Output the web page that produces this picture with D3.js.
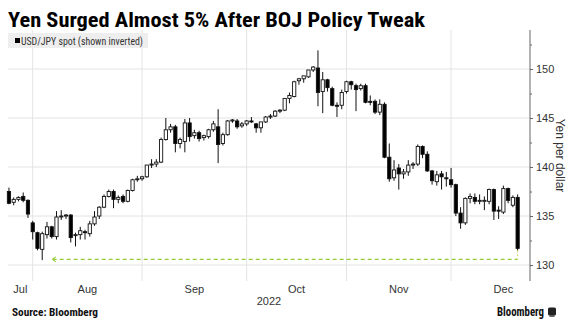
<!DOCTYPE html>
<html><head><meta charset="utf-8">
<script src="https://cdn.jsdelivr.net/npm/d3@7"></script>
<style>body{margin:0;background:#fff;} svg{display:block;}</style>
</head><body><svg id="chart" width="583" height="323"></svg>
<script>
// ---------- data ----------
const titleText = "Yen Surged Almost 5% After BOJ Policy Tweak";
const legendLabel = "USD/JPY spot (shown inverted)";
const yAxisLabel = "Yen per dollar";
const sourceText = "Source: Bloomberg";
const brandText = "Bloomberg";
const yearLabel = "2022";
const firstDay = "2022-07-22";
const lastDay = "2022-12-20";
const yTicks = [130, 135, 140, 145, 150];
const yMinorTicks = [130, 132.5, 135, 137.5, 140, 142.5, 145, 147.5, 150, 152.5];

const open  = [137.5,136.4,136.7,137.0,136.6,134.3,133.3,131.6,133.1,133.9,132.9,135.0,135.0,135.1,133.0,133.1,133.4,133.2,134.2,135.0,135.9,137.0,137.5,136.7,137.0,136.5,137.6,138.7,138.8,139.0,140.2,140.3,140.5,142.8,143.8,144.1,142.4,142.6,144.5,143.2,143.5,143.0,143.1,143.8,144.1,142.4,143.3,144.7,144.7,144.2,144.4,144.7,144.4,144.0,144.6,145.1,145.2,145.7,145.8,147.0,147.2,148.8,149.0,149.2,149.9,150.1,147.7,148.9,148.0,146.3,146.3,147.7,148.7,148.3,148.0,148.3,146.7,146.7,145.6,146.4,141.0,138.9,139.9,139.3,139.5,140.2,140.3,142.1,141.3,139.6,138.5,139.3,138.9,138.7,138.2,135.3,134.3,136.8,136.9,136.6,136.6,136.5,137.7,135.6,135.4,137.8,136.1,136.9];
const high  = [137.9,136.9,137.0,137.4,136.7,134.5,133.4,133.4,134.4,134.0,135.5,135.6,135.2,135.2,133.3,133.9,133.6,134.5,135.5,136.0,137.2,137.7,137.7,137.1,137.2,137.7,138.8,139.1,139.1,140.2,140.8,140.8,143.0,145.0,144.4,144.3,143.0,144.9,145.0,143.8,143.7,143.3,143.9,144.7,145.9,143.5,144.8,144.9,144.9,144.6,144.8,145.1,144.5,144.6,145.2,145.4,145.8,145.9,147.0,147.6,148.8,149.1,149.3,149.9,150.3,151.9,149.7,149.0,148.2,146.6,147.9,148.8,148.8,148.5,148.5,148.5,147.3,146.9,146.9,146.6,142.4,140.7,140.3,139.8,140.7,140.5,142.3,142.2,141.6,139.7,139.6,139.6,139.5,139.9,138.3,135.9,136.9,137.3,137.3,137.2,137.0,137.8,137.8,136.0,138.1,137.9,137.1,137.2];
const low   = [136.2,136.1,136.5,136.4,134.8,132.6,131.5,130.5,132.7,132.7,132.6,134.6,134.7,132.3,131.9,132.6,132.6,132.9,134.0,134.7,135.8,136.9,135.8,136.3,136.3,136.4,137.5,138.5,138.6,138.9,139.9,140.0,140.4,142.7,143.5,141.5,141.9,141.5,142.6,142.9,142.6,142.7,142.9,143.6,140.4,142.2,143.2,144.5,143.9,144.0,144.2,144.5,143.5,143.5,144.5,144.9,145.1,145.5,145.7,146.5,147.1,148.4,148.6,149.1,149.7,146.2,145.5,147.7,146.2,145.1,145.9,147.5,147.9,145.7,147.8,146.5,146.3,145.4,145.3,140.9,138.5,138.6,137.7,138.8,139.1,139.8,140.1,140.9,139.5,138.2,138.1,137.7,138.0,137.9,135.0,133.7,134.1,136.3,136.2,136.2,135.6,136.2,134.6,134.7,135.2,136.3,135.9,131.5];
const close = [136.3,136.7,136.9,136.6,135.2,133.4,131.7,133.2,133.9,132.9,134.9,135.0,135.1,132.8,133.1,133.5,133.3,134.2,134.9,135.9,137.0,137.5,136.7,136.9,136.5,137.6,138.7,138.8,139.0,140.2,140.3,140.5,142.8,143.8,144.1,142.4,142.8,144.5,143.1,143.5,142.9,143.2,143.8,144.4,142.3,143.3,144.7,144.8,144.1,144.4,144.7,144.6,144.0,144.6,145.1,145.2,145.7,145.8,147.0,147.3,148.7,149.0,149.3,149.9,150.2,147.6,148.9,148.1,146.3,146.2,147.6,148.7,148.4,147.9,148.3,146.6,146.6,145.6,146.4,141.0,138.8,139.7,139.3,139.5,140.2,140.3,142.1,141.3,139.6,138.6,139.2,139.0,138.8,138.2,135.3,134.3,136.8,137.0,136.5,136.6,136.6,137.7,135.5,135.5,137.8,136.6,136.9,131.7];

// annotation: low-since-August marker line
const markerLevel = 130.58;
const markerFromIndex = 9.2;

// ---------- setup ----------
const svg = d3.select("#chart");
const fontNarrow = "'Liberation Sans Narrow','Roboto Condensed','DejaVu Sans Condensed','Liberation Sans',sans-serif";
const fontReg = "'Liberation Sans','Arial',sans-serif";

const isWeekday = d => d.getDay() !== 0 && d.getDay() !== 6;
const parse = d3.timeParse("%Y-%m-%d");
const dates = d3.timeDays(parse(firstDay), d3.timeDay.offset(parse(lastDay), 1)).filter(isWeekday);
const candles = dates.map((d, i) => ({date: d, i, o: open[i], h: high[i], l: low[i], c: close[i]}));

const plot = {left: 8, right: 530, top: 30, bottom: 281};
const x = d3.scaleLinear().domain([-0.2, 109.6]).range([plot.left, plot.right]);
const y = d3.scaleLinear().domain([128.37, 153.98]).range([plot.bottom, plot.top]);
const step = x(1) - x(0);
const bodyW = step * 0.68;

// month boundaries (last trading day index of each month) and label centres
const monthKey = d3.timeFormat("%Y-%m");
const groups = d3.groups(candles, c => monthKey(c.date));
const monthEnds = groups.map(g => g[1][g[1].length - 1].i);
const monthLabels = groups.map((g, k) => {
  const first = g[1][0];
  const mStart = d3.timeMonth.floor(first.date);
  const fullCount = d3.timeDays(mStart, d3.timeMonth.offset(mStart, 1)).filter(isWeekday).length;
  const prevEnd = k === 0 ? x.domain()[0] : monthEnds[k - 1];
  const end = k === 0 ? monthEnds[0] : (k === groups.length - 1 ? prevEnd + fullCount : monthEnds[k]);
  return {name: d3.timeFormat("%b")(first.date), pos: (prevEnd + end) / 2};
});
const gridMonthEnds = monthEnds.slice(0, -1);

// ---------- gridlines ----------
svg.append("g").selectAll("line").data(yTicks).join("line")
  .attr("x1", plot.left).attr("x2", plot.right)
  .attr("y1", d => y(d)).attr("y2", d => y(d))
  .attr("stroke", "#e3e3e3").attr("stroke-width", 1);
svg.append("g").selectAll("line").data(gridMonthEnds).join("line")
  .attr("x1", d => x(d)).attr("x2", d => x(d))
  .attr("y1", plot.top).attr("y2", plot.bottom)
  .attr("stroke", "#e3e3e3").attr("stroke-width", 1);

// ---------- title & legend ----------
svg.append("text").attr("x", 8).attr("y", 27)
  .attr("font-family", fontNarrow).attr("font-weight", "bold").attr("font-size", 20)
  .attr("textLength", 417).attr("lengthAdjust", "spacingAndGlyphs")
  .attr("fill", "#000").text(titleText);

svg.append("rect").attr("x", 8).attr("y", 33).attr("width", 140).attr("height", 15).attr("fill", "#eeeeee");
svg.append("rect").attr("x", 15).attr("y", 38).attr("width", 5).attr("height", 5).attr("fill", "#000");
svg.append("text").attr("x", 21).attr("y", 44.5)
  .attr("font-family", fontNarrow).attr("font-size", 10)
  .attr("textLength", 122).attr("lengthAdjust", "spacingAndGlyphs")
  .attr("fill", "#333").text(legendLabel);

// ---------- annotation ----------
const markerColor = "#96cc3a";
const lastC = candles[candles.length - 1];
svg.append("line")
  .attr("x1", x(markerFromIndex)).attr("x2", x(lastC.i))
  .attr("y1", y(markerLevel)).attr("y2", y(markerLevel))
  .attr("stroke", markerColor).attr("stroke-width", 1.2).attr("stroke-dasharray", "4,3");
svg.append("line")
  .attr("x1", x(lastC.i)).attr("x2", x(lastC.i))
  .attr("y1", y(lastC.l)).attr("y2", y(markerLevel))
  .attr("stroke", "#d4d45c").attr("stroke-width", 1).attr("stroke-dasharray", "2,2");
svg.append("path")
  .attr("d", `M${x(markerFromIndex) + 3},${y(markerLevel) - 2.5} L${x(markerFromIndex)},${y(markerLevel)} L${x(markerFromIndex) + 3},${y(markerLevel) + 2.5}`)
  .attr("fill", "none").attr("stroke", markerColor).attr("stroke-width", 1.2);

// ---------- candles ----------
const g = svg.append("g");
g.selectAll("line.wick").data(candles).join("line").attr("class", "wick")
  .attr("x1", d => x(d.i)).attr("x2", d => x(d.i))
  .attr("y1", d => y(d.h)).attr("y2", d => y(d.l))
  .attr("stroke", "#111").attr("stroke-width", 1);
g.selectAll("rect.body").data(candles).join("rect").attr("class", "body")
  .attr("x", d => x(d.i) - bodyW / 2).attr("width", bodyW)
  .attr("y", d => y(Math.max(d.o, d.c)))
  .attr("height", d => Math.max(1, Math.abs(y(d.o) - y(d.c))))
  .attr("fill", d => d.c < d.o ? "#000" : "#fff")
  .attr("stroke", "#111").attr("stroke-width", 0.9);

// ---------- y axis ----------
const yAxis = svg.append("g").attr("transform", `translate(${plot.right},0)`);
yAxis.append("line").attr("x1", 0).attr("x2", 0).attr("y1", plot.top).attr("y2", plot.bottom)
  .attr("stroke", "#666").attr("stroke-width", 1);
yAxis.append("g").call(d3.axisRight(y).tickValues(yMinorTicks).tickSize(2).tickFormat(""))
  .call(s => s.select(".domain").remove())
  .call(s => s.selectAll("line").attr("stroke", "#666"));
yAxis.append("g").call(d3.axisRight(y).tickValues(yTicks).tickSize(3).tickPadding(3))
  .call(s => s.select(".domain").remove())
  .call(s => s.selectAll("line").attr("stroke", "#666"))
  .call(s => s.selectAll("text").attr("font-family", fontReg).attr("font-size", 11).attr("fill", "#333"));

svg.append("text")
  .attr("transform", `translate(556,${(plot.top + plot.bottom) / 2}) rotate(90)`)
  .attr("text-anchor", "middle")
  .attr("font-family", fontReg).attr("font-size", 12).attr("fill", "#333")
  .text(yAxisLabel);

// ---------- x labels ----------
svg.append("g").selectAll("text").data(monthLabels).join("text")
  .attr("x", d => x(d.pos)).attr("y", 293)
  .attr("text-anchor", "middle")
  .attr("font-family", fontReg).attr("font-size", 11).attr("fill", "#333")
  .text(d => d.name);
svg.append("text").attr("x", (plot.left + plot.right) / 2).attr("y", 304.5)
  .attr("text-anchor", "middle")
  .attr("font-family", fontReg).attr("font-size", 11).attr("fill", "#333")
  .text(yearLabel);

// ---------- footer ----------
svg.append("text").attr("x", 12).attr("y", 316)
  .attr("font-family", fontNarrow).attr("font-weight", "bold").attr("font-size", 10)
  .attr("textLength", 86).attr("lengthAdjust", "spacingAndGlyphs")
  .attr("fill", "#111").text(sourceText);
svg.append("text").attr("x", 497).attr("y", 315.5)
  .attr("font-family", fontNarrow).attr("font-weight", "bold").attr("font-size", 12)
  .attr("textLength", 47).attr("lengthAdjust", "spacingAndGlyphs")
  .attr("fill", "#111").text(brandText);
svg.append("rect").attr("x", 548).attr("y", 307.5).attr("width", 8).attr("height", 8).attr("rx", 1.5).attr("fill", "#222");
svg.append("rect").attr("x", 549.5).attr("y", 315.5).attr("width", 5).attr("height", 1.2).attr("fill", "#222");
</script>
</body></html>
